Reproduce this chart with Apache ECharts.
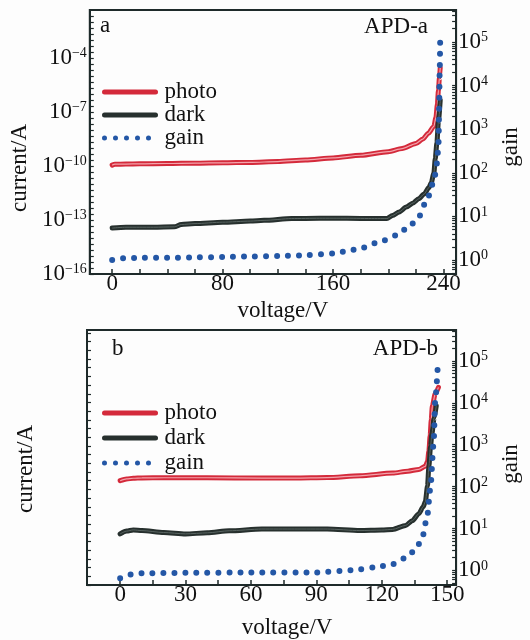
<!DOCTYPE html>
<html><head><meta charset="utf-8">
<script src="https://cdn.jsdelivr.net/npm/echarts@6/dist/echarts.min.js"></script>
<style>html,body{margin:0;padding:0;background:#fdfdfd}#c{width:530px;height:640px}</style>
</head><body><div id="c"></div>
<script>
// ---------- Panel a (APD-a): voltage in V; current as log10(I/A); gain as log10(gain) ----------
const voltPhotoA = [0, 2, 10, 20, 40, 60, 80, 100, 120, 140, 160, 180, 200, 210, 220, 225, 229, 233, 234.5, 235.5, 236.3, 237, 237.6];
const logPhotoA  = [-9.95, -9.9, -9.89, -9.88, -9.86, -9.84, -9.82, -9.8, -9.75, -9.66, -9.55, -9.4, -9.2, -9.03, -8.75, -8.5, -8.18, -7.8, -7.3, -6.6, -5.8, -5.1, -4.55];
const voltDarkA  = [0, 10, 20, 30, 45, 50, 60, 80, 100, 110, 130, 150, 170, 190, 199, 203, 208, 213, 218, 222, 226, 229.4, 231, 233, 234, 235.2, 236.3, 237.6];
const logDarkA   = [-13.45, -13.4, -13.4, -13.4, -13.38, -13.25, -13.2, -13.12, -13.06, -13.02, -12.92, -12.9, -12.9, -12.92, -12.92, -12.75, -12.55, -12.28, -12.05, -11.82, -11.55, -11.2, -10.95, -10.4, -9.6, -8.7, -7.5, -6.35];
const voltGainA  = [0, 8, 20, 40, 60, 80, 100, 120, 140, 160, 170, 180, 194, 206, 215, 222, 228, 233, 235.3, 236.4, 236.8, 237.2, 237.6];
const logGainA   = [0.0, 0.04, 0.05, 0.05, 0.06, 0.07, 0.08, 0.09, 0.11, 0.15, 0.2, 0.27, 0.42, 0.57, 0.76, 0.99, 1.38, 1.8, 2.22, 2.7, 3.5, 4.3, 5.12];

// ---------- Panel b (APD-b) ----------
const voltPhotoB = [0, 3, 6, 10, 20, 40, 65, 80, 95, 110, 125, 132, 137, 140, 141, 141.6, 142.2, 142.7, 143.2, 144.5, 146];
const logPhotoB  = [-10.0, -9.9, -9.86, -9.84, -9.83, -9.83, -9.85, -9.85, -9.82, -9.72, -9.56, -9.45, -9.35, -9.17, -8.9, -8.3, -7.4, -6.5, -5.7, -5.0, -4.63];
const voltDarkB  = [0, 3, 6, 10, 20, 30, 40, 50, 65, 80, 95, 110, 120, 125, 131, 134, 137, 139, 140, 141, 141.6, 142.4, 143, 144, 145];
const logDarkB   = [-13.06, -12.9, -12.83, -12.87, -12.98, -13.06, -13.0, -12.88, -12.78, -12.78, -12.78, -12.87, -12.84, -12.8, -12.57, -12.3, -11.9, -11.5, -11.2, -10.3, -9.2, -8.0, -7.3, -6.4, -5.7];
const voltGainB  = [0, 5, 10, 30, 60, 90, 106, 117, 125, 131, 135.5, 138.5, 140.8, 142.3, 143.8, 144.5, 145.7];
const logGainB   = [-0.19, -0.1, -0.07, -0.06, -0.05, -0.05, 0.0, 0.07, 0.15, 0.3, 0.49, 0.76, 1.27, 1.96, 3.04, 4.04, 4.89];

// ---------- Tick labels ----------
const xTicksA = [0, 80, 160, 240];
const xTicksB = [0, 30, 60, 90, 120, 150];
const currentTickExps = [-16, -13, -10, -7, -4];
const gainTickExps = [0, 1, 2, 3, 4, 5];

const FONT = '"Liberation Serif", "Times New Roman", serif';
const TXT = '#111';
const AX = '#1e2a2a';
const RED = '#d42a3b', RED_IN = '#f3a4ac';
const DARK = '#27302e', DARK_IN = '#5a6663';
const BLUE = '#2457a6';

const pairs = (xs, ys) => xs.map((x, i) => [x, ys[i]]);
const range = (a, b, s) => { const r = []; for (let v = a; v <= b + 1e-9; v += s) r.push(+v.toFixed(4)); return r; };
const gainMinor = (lo, hi) => { const r = []; for (let k = -1; k <= 5; k++) for (let m = 1; m <= 9; m++) { const v = k + Math.log10(m); if (v >= lo && v <= hi) r.push(v); } return r; };
const supFmt = v => { const n = Math.round(v); return '{b|10}{s|' + (n < 0 ? '\u2212' : '') + Math.abs(n) + '}'; };
const rich = {
  b: { fontFamily: FONT, fontSize: 23, color: TXT, verticalAlign: 'bottom' },
  s: { fontFamily: FONT, fontSize: 14, color: TXT, verticalAlign: 'top' }
};

const axisLine = { show: true, onZero: false, lineStyle: { color: AX, width: 2 } };
function xAxisCfg(grid, min, max, tickVals, labelVals, padLeft, gap) {
  return {
    gridIndex: grid, type: 'value', min, max,
    name: 'voltage/V', nameLocation: 'middle', nameGap: gap,
    nameTextStyle: { fontFamily: FONT, fontSize: 23, color: TXT, padding: [0, 0, 0, padLeft] },
    axisLine, splitLine: { show: false },
    axisTick: { inside: true, length: 5, customValues: tickVals, lineStyle: { color: AX, width: 1.5 } },
    axisLabel: { customValues: labelVals, margin: -2, fontFamily: FONT, fontSize: 23, color: TXT }
  };
}
function curAxisCfg(grid, showLabels, tickVals, padRight) {
  return {
    gridIndex: grid, type: 'value', position: 'left', min: -16, max: -1.33,
    name: 'current/A', nameLocation: 'middle', nameRotate: 90, nameGap: 50,
    nameTextStyle: { fontFamily: FONT, fontSize: 23, color: TXT, padding: [0, padRight, 0, 0] },
    axisLine, splitLine: { show: false },
    axisTick: { inside: true, length: 4, customValues: tickVals, lineStyle: { color: AX, width: 1.2 } },
    axisLabel: { show: showLabels, customValues: currentTickExps, margin: 3, formatter: supFmt, rich }
  };
}
function gainAxisCfg(grid, min, max, padRight) {
  return {
    gridIndex: grid, type: 'value', position: 'right', min, max,
    name: 'gain', nameLocation: 'middle', nameRotate: 90, nameGap: 40,
    nameTextStyle: { fontFamily: FONT, fontSize: 23, color: TXT, padding: [0, padRight, 0, 0] },
    axisLine, splitLine: { show: false },
    axisTick: { inside: true, length: 4, customValues: gainMinor(min, max), lineStyle: { color: AX, width: 1.2 } },
    axisLabel: { customValues: gainTickExps, margin: 2, formatter: supFmt, rich }
  };
}
function panelSeries(xi, yCur, yGain, vP, lP, vD, lD, vG, lG) {
  const base = { type: 'line', xAxisIndex: xi, symbol: 'none', smooth: 0.25, smoothMonotone: 'x', silent: true };
  return [
    Object.assign({}, base, { name: 'photo', yAxisIndex: yCur, data: pairs(vP, lP), lineStyle: { color: RED, width: 5, cap: 'round' }, itemStyle: { color: RED } }),
    Object.assign({}, base, { name: 'photo-core', yAxisIndex: yCur, data: pairs(vP, lP), lineStyle: { color: RED_IN, width: 1.2 }, itemStyle: { color: RED_IN } }),
    Object.assign({}, base, { name: 'dark', yAxisIndex: yCur, data: pairs(vD, lD), lineStyle: { color: DARK, width: 5, cap: 'round' }, itemStyle: { color: DARK } }),
    Object.assign({}, base, { name: 'dark-core', yAxisIndex: yCur, data: pairs(vD, lD), lineStyle: { color: DARK_IN, width: 1 }, itemStyle: { color: DARK_IN } }),
    Object.assign({}, base, { name: 'gain', yAxisIndex: yGain, data: pairs(vG, lG), lineStyle: { color: BLUE, width: 6, type: [0, 11], cap: 'round' }, itemStyle: { color: BLUE } })
  ];
}
const legendCfg = (top, gap) => ({
  data: ['photo', 'dark', 'gain'], orient: 'vertical', left: 97, top, itemWidth: 51, itemHeight: 10, itemGap: gap,
  selectedMode: false,
  itemStyle: { opacity: 0 },
  lineStyle: { width: 5, cap: 'round' },
  textStyle: { fontFamily: FONT, fontSize: 23, color: TXT, lineHeight: 23, padding: [0, 0, 0, 4] }
});
const txt = (x, y, s, align) => ({ type: 'text', x, y, style: { text: s, fontFamily: FONT, fontSize: 23, fill: TXT, align, verticalAlign: 'middle' } });

const chart = echarts.init(document.getElementById('c'), null, { renderer: 'canvas' });
chart.setOption({
  backgroundColor: '#fdfdfd',
  animation: false,
  grid: [
    { left: 87, top: 10, width: 376, height: 264, show: true, borderColor: AX, borderWidth: 2, backgroundColor: 'transparent' },
    { left: 87, top: 330, width: 376, height: 263, show: true, borderColor: AX, borderWidth: 2, backgroundColor: 'transparent' }
  ],
  xAxis: [
    xAxisCfg(0, -16.2, 249.1, range(0, 240, 20), xTicksA, 20, 25),
    xAxisCfg(1, -15.2, 154.1, range(0, 150, 15), xTicksB, 31, 31)
  ],
  yAxis: [
    curAxisCfg(0, true, range(-16, -1.5, 1 / 3), 52),
    gainAxisCfg(0, -0.32, 5.73, 10),
    curAxisCfg(1, false, range(-16, -1.5, 0.5), 23),
    gainAxisCfg(1, -0.35, 5.74, 13)
  ],
  legend: [legendCfg(75.5, 0), legendCfg(396.5, 2)],
  series: [
    ...panelSeries(0, 0, 1, voltPhotoA, logPhotoA, voltDarkA, logDarkA, voltGainA, logGainA),
    ...panelSeries(1, 2, 3, voltPhotoB, logPhotoB, voltDarkB, logDarkB, voltGainB, logGainB)
  ],
  graphic: [
    txt(100, 25.5, 'a', 'left'),
    txt(428, 27.3, 'APD-a', 'right'),
    txt(112, 349, 'b', 'left'),
    txt(438, 349, 'APD-b', 'right')
  ]
});
</script>
</body></html>
